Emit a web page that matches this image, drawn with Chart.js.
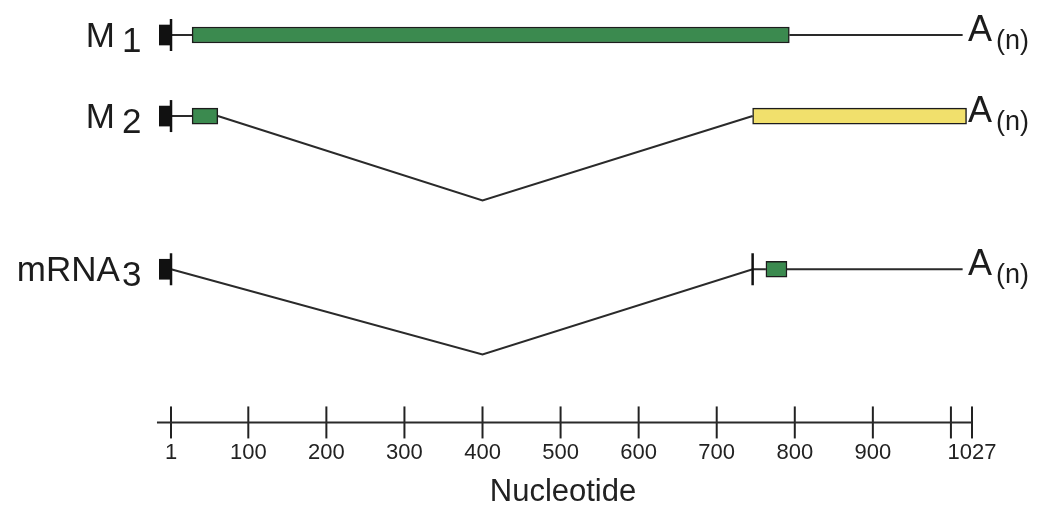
<!DOCTYPE html>
<html>
<head>
<meta charset="utf-8">
<title>Transcript map</title>
<script src="https://cdn.jsdelivr.net/npm/chart.js@4.4.1/dist/chart.umd.min.js"></script>
<style>
  html, body { margin: 0; padding: 0; background: #fff; }
  #wrap { width: 1045px; height: 513px; position: relative; }
</style>
</head>
<body>
<div id="wrap"><canvas id="map"></canvas></div>
<script>
// transcripts, top to bottom
const transcripts = ['M1', 'M2', 'mRNA3'];
const labelMain = ['M', 'M', 'mRNA'];
const labelSub = ['1', '2', '3'];
const rowLevel = [0, 1, 2.89];

// 5' leader block (nucleotides)
const leaderStart = -14;
const leaderEnd = 1;

// exon boxes [start, end] and the row they sit on
const greenExons = [[28, 793], [28, 61], [763, 790]];
const greenRows = [0, 1, 2];
const yellowExons = [[746, 1020]];
const yellowRows = [1];

// connecting lines; null splits a segment, drop = dip of the spliced-out part
const m1LineX = [1, 28, null, 793, 1015];
const m1LineDrop = [0, 0, null, 0, 0];
const m2LineX = [1, 28, null, 61, 400, 746];
const m2LineDrop = [0, 0, null, 0, 1.04, 0];
const r3LineX = [1, 400, 746, 763, null, 790, 1015];
const r3LineDrop = [0, 1.05, 0, 0, null, 0, 0];

// junction ticks besides the cap ticks
const junctionX = [746];
const junctionRow = [2];

// nucleotide ruler
const axisTicks = [1, 100, 200, 300, 400, 500, 600, 700, 800, 900, 1000, 1027];
const tickLabels = ['1', '100', '200', '300', '400', '500', '600', '700', '800', '900', '', '1027'];
const axisStart = -17;
const axisLevel = 4.78;
const polyAAt = 1022;
const labelAt = -37;

const FONT = '"Liberation Sans", Arial, Helvetica, sans-serif';
const INK = '#1c1c1c';

function linePoints(xs, drops, row) {
    return xs.map((x, i) => x === null ? {x: null, y: null} : {x: x, y: rowLevel[row] + drops[i]});
}

function lineSet(points) {
    return {
        type: 'scatter',
        data: points,
        showLine: true,
        borderColor: '#2a2a2a',
        borderWidth: 2,
        pointRadius: 0,
        clip: false
    };
}

// labels on the left and the A(n) tails on the right
const rowText = {
    id: 'rowText',
    afterDatasetsDraw(chart) {
        const {ctx, scales: {x, y}} = chart;
        ctx.save();
        ctx.fillStyle = INK;
        ctx.textBaseline = 'alphabetic';
        transcripts.forEach((name, i) => {
            const py = y.getPixelForValue(rowLevel[i]);
            const right = x.getPixelForValue(labelAt);
            ctx.font = '35px ' + FONT;
            ctx.textAlign = 'right';
            const wSub = ctx.measureText(labelSub[i]).width;
            ctx.fillText(labelSub[i], right, py + 17);
            ctx.fillText(labelMain[i], right - wSub - (i < 2 ? 7 : 2), py + 12);

            const ax = x.getPixelForValue(polyAAt);
            ctx.textAlign = 'left';
            ctx.font = '36px ' + FONT;
            ctx.fillText('A', ax, py + 6);
            const wA = ctx.measureText('A').width;
            ctx.font = '27px ' + FONT;
            ctx.fillText('(n)', ax + wA + 4, py + 14);
        });
        ctx.restore();
    }
};

const datasets = [
    {
        type: 'bar',
        indexAxis: 'y',
        data: greenExons.map((e, i) => ({x: e, y: rowLevel[greenRows[i]]})),
        backgroundColor: '#3b8a4f',
        borderColor: INK,
        borderWidth: 1.5,
        borderSkipped: false,
        barThickness: 16,
        grouped: false,
        clip: false
    },
    {
        type: 'bar',
        indexAxis: 'y',
        data: yellowExons.map((e, i) => ({x: e, y: rowLevel[yellowRows[i]]})),
        backgroundColor: '#f1e06c',
        borderColor: INK,
        borderWidth: 1.5,
        borderSkipped: false,
        barThickness: 16,
        grouped: false,
        clip: false
    },
    {
        type: 'bar',
        indexAxis: 'y',
        data: rowLevel.map(lv => ({x: [leaderStart, leaderEnd], y: lv})),
        backgroundColor: '#111',
        borderWidth: 0,
        barThickness: 20,
        grouped: false,
        clip: false
    },
    {
        type: 'scatter',
        data: rowLevel.map(lv => ({x: leaderEnd, y: lv}))
            .concat(junctionX.map((jx, i) => ({x: jx, y: rowLevel[junctionRow[i]]}))),
        pointStyle: 'line',
        pointRotation: 90,
        pointRadius: 16,
        pointBorderWidth: 2.5,
        pointBorderColor: '#111',
        clip: false
    },
    lineSet(linePoints(m1LineX, m1LineDrop, 0)),
    lineSet(linePoints(m2LineX, m2LineDrop, 1)),
    lineSet(linePoints(r3LineX, r3LineDrop, 2)),
    // ruler line and its ticks
    lineSet([{x: axisStart, y: axisLevel}, {x: axisTicks[axisTicks.length - 1], y: axisLevel}]),
    {
        type: 'scatter',
        data: axisTicks.map(t => ({x: t, y: axisLevel})),
        pointStyle: 'line',
        pointRotation: 90,
        pointRadius: 16,
        pointBorderWidth: 2,
        pointBorderColor: '#222',
        clip: false
    }
];

new Chart(document.getElementById('map'), {
    type: 'scatter',
    data: {datasets: datasets},
    options: {
        responsive: true,
        maintainAspectRatio: false,
        animation: false,
        events: [],
        layout: {autoPadding: false, padding: {left: 81, right: 0, top: 0, bottom: 0}},
        plugins: {legend: {display: false}, tooltip: {enabled: false}},
        scales: {
            x: {
                type: 'linear',
                min: -114.3,
                max: 1120.5,
                offset: false,
                border: {display: false},
                grid: {display: false, drawTicks: false},
                afterBuildTicks: scale => { scale.ticks = axisTicks.map(v => ({value: v})); },
                ticks: {
                    autoSkip: false,
                    maxRotation: 0,
                    padding: 17,
                    color: '#222',
                    font: {family: FONT, size: 22},
                    callback: (value, index) => tickLabels[index]
                },
                title: {
                    display: true,
                    text: 'Nucleotide',
                    color: '#222',
                    font: {family: FONT, size: 31, lineHeight: 0.65},
                    padding: {top: 0, bottom: 10}
                }
            },
            y: {
                type: 'linear',
                display: false,
                reverse: true,
                offset: false,
                min: -0.432,
                max: axisLevel
            }
        }
    },
    plugins: [rowText]
});
</script>
</body>
</html>
